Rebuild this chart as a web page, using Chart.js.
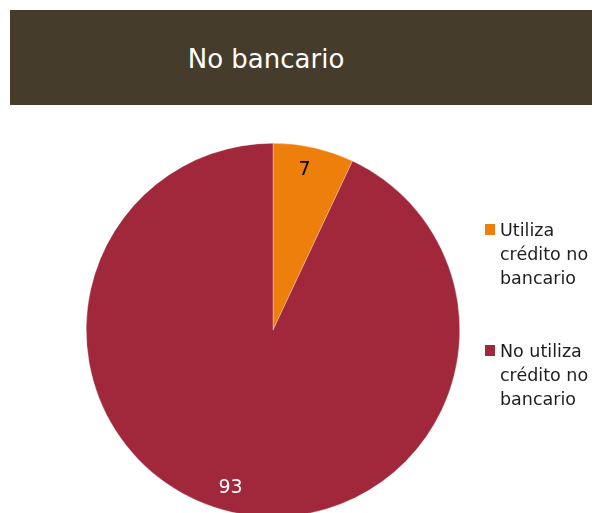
<!DOCTYPE html>
<html>
<head>
<meta charset="utf-8">
<script src="https://cdn.jsdelivr.net/npm/chart.js@4.4.1/dist/chart.umd.min.js"></script>
<style>
  html, body { margin: 0; padding: 0; background: #ffffff; overflow: hidden; width: 592px; height: 513px; }
  #header {
    position: absolute; left: 10px; top: 10px; width: 582px; height: 95px;
    background: #463c2b; color: #ffffff;
    font-family: "DejaVu Sans", sans-serif; font-size: 26px;
    display: flex; align-items: center; justify-content: center;
  }
  #header span { position: relative; left: -35px; top: 1px; }
  #pie { position: absolute; left: 0; top: 0; }
</style>
</head>
<body>
<div id="header"><span>No bancario</span></div>
<canvas id="pie" width="592" height="530"></canvas>
<script>
// Share of people using non-bank credit
const categories = [
  ['Utiliza', 'crédito no', 'bancario'],
  ['No utiliza', 'crédito no', 'bancario']
];
const values = [7, 93];
const sliceColors = ['#ef7f0b', '#a1283a'];
const valueLabelColors = ['#000000', '#ffffff'];
const valueLabelShift = [[-4, -1], [-7, 0]];

// Value labels drawn inside each slice
const sliceValues = {
  id: 'sliceValues',
  afterDatasetsDraw(chart) {
    const ctx = chart.ctx;
    const meta = chart.getDatasetMeta(0);
    ctx.save();
    ctx.font = '19px "DejaVu Sans", sans-serif';
    ctx.textAlign = 'center';
    ctx.textBaseline = 'middle';
    meta.data.forEach((arc, i) => {
      const mid = (arc.startAngle + arc.endAngle) / 2;
      const r = arc.outerRadius * 0.87;
      const x = arc.x + Math.cos(mid) * r;
      const y = arc.y + Math.sin(mid) * r;
      ctx.fillStyle = valueLabelColors[i];
      ctx.fillText(String(chart.data.datasets[0].data[i]), x + valueLabelShift[i][0], y + valueLabelShift[i][1]);
    });
    ctx.restore();
  }
};

// Legend on the right with wrapped labels
const sideLegend = {
  id: 'sideLegend',
  afterDraw(chart) {
    const ctx = chart.ctx;
    const ds = chart.data.datasets[0];
    const boxX = 485, textX = 500, lineH = 24;
    const starts = [236, 357];
    ctx.save();
    ctx.font = '17.5px "DejaVu Sans", sans-serif';
    ctx.textAlign = 'left';
    ctx.textBaseline = 'alphabetic';
    chart.data.labels.forEach((lines, i) => {
      const base = starts[i];
      ctx.fillStyle = ds.backgroundColor[i];
      ctx.fillRect(boxX, base - 12, 10, 11);
      ctx.fillStyle = '#1e1e1e';
      lines.forEach((t, k) => ctx.fillText(t, textX, base + k * lineH));
    });
    ctx.restore();
  }
};

new Chart(document.getElementById('pie'), {
  type: 'pie',
  data: {
    labels: categories,
    datasets: [{
      data: values,
      backgroundColor: sliceColors,
      borderColor: 'rgba(255,255,255,0.6)',
      borderWidth: 0.5
    }]
  },
  options: {
    responsive: false,
    animation: false,
    layout: { padding: { left: 86, right: 132, top: 143, bottom: 13 } },
    plugins: {
      legend: { display: false },
      tooltip: { enabled: false },
      title: { display: false }
    }
  },
  plugins: [sliceValues, sideLegend]
});
</script>
</body>
</html>
